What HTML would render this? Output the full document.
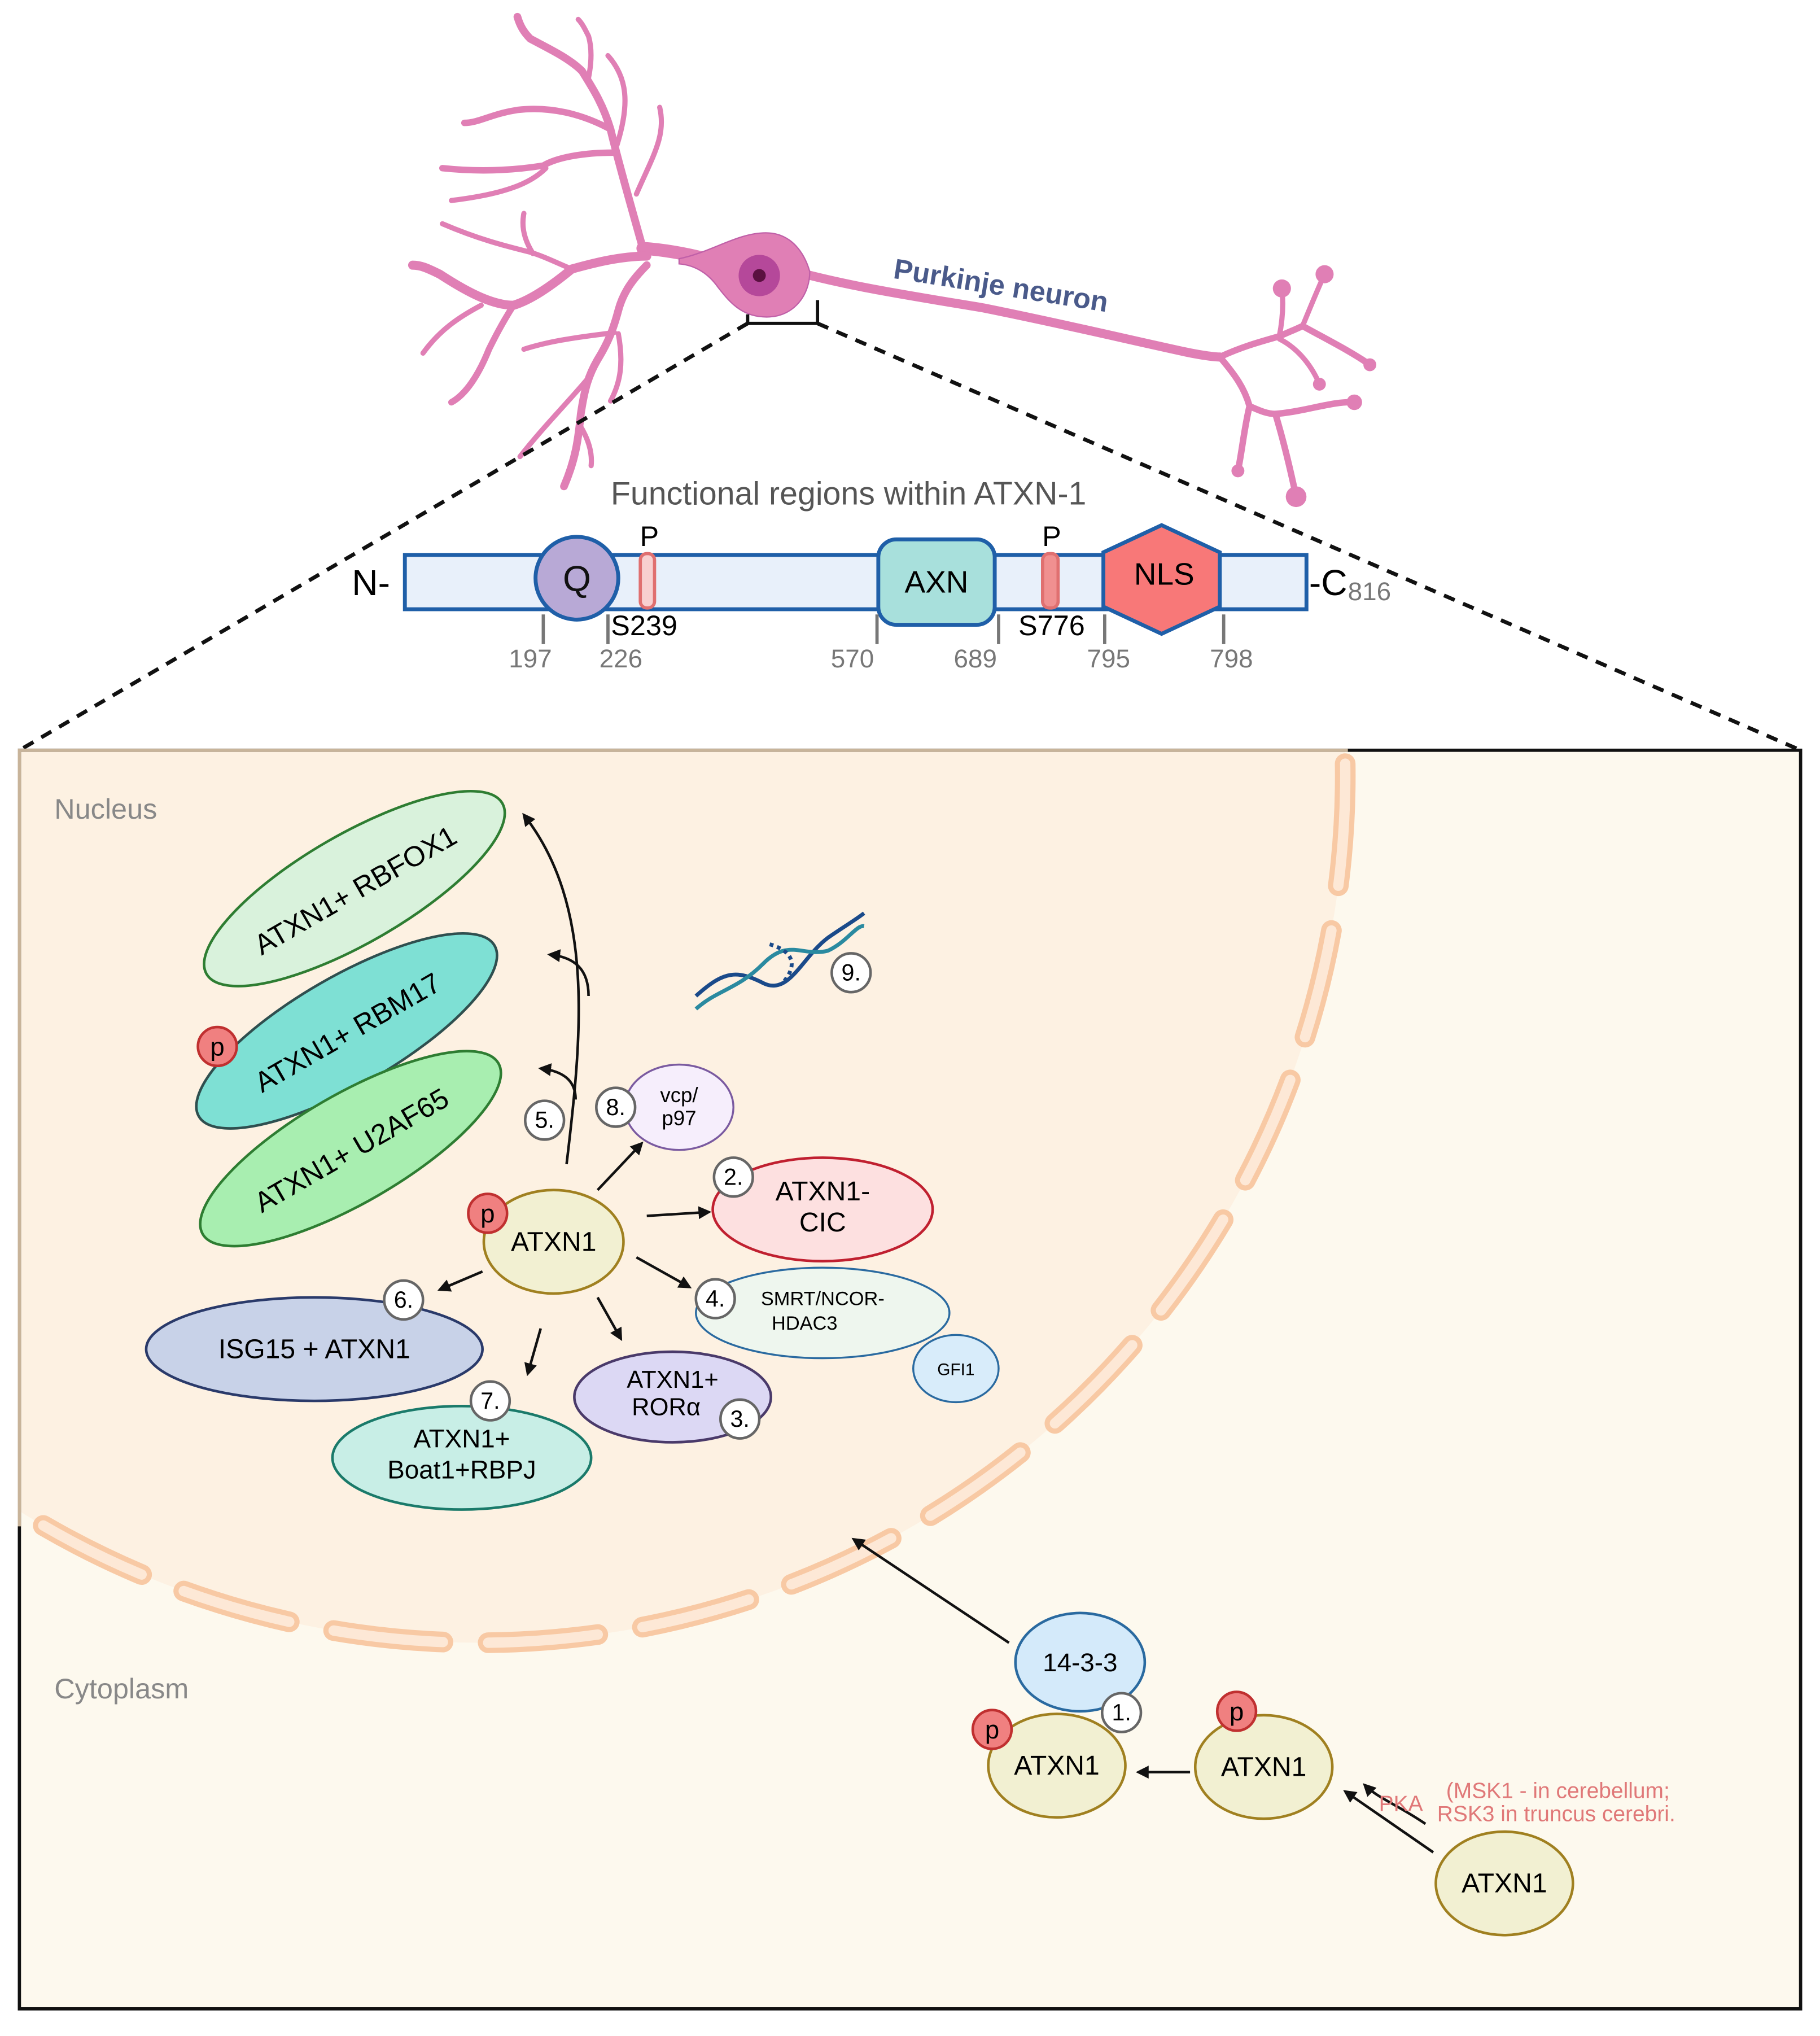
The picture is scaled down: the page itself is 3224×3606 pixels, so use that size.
<!DOCTYPE html>
<html><head><meta charset="utf-8"><style>
html,body{margin:0;padding:0;background:#fff}
svg{display:block}
text{font-family:"Liberation Sans",sans-serif}
</style></head><body>
<svg width="3224" height="3606" viewBox="0 0 1407 1574" preserveAspectRatio="none" xmlns="http://www.w3.org/2000/svg">
<defs>
<marker id="ah" viewBox="0 0 10 10" refX="8" refY="5" markerWidth="5" markerHeight="5" orient="auto"><path d="M0,0 L10,5 L0,10 z" fill="#111"/></marker>
<clipPath id="box"><rect x="15" y="580" width="1377" height="973"/></clipPath>
<g id="neu">
<path class="w8" d="M545,200 C530,196 512,193 497,192"/>
<path class="w6" d="M497,192 C488,160 478,125 472,100 C466,80 458,68 450,55 C440,45 425,38 410,30 C405,25 402,20 400,13"/>
<path class="w4" d="M455,60 C458,45 457,35 455,28 C452,22 450,18 447,15"/>
<path class="w5" d="M472,100 C450,88 425,82 400,85 C380,88 370,95 359,95"/>
<path class="w4" d="M477,112 C487,80 485,60 470,43"/>
<path class="w4" d="M492,150 C505,120 515,105 510,83"/>
<path class="w5" d="M474,118 C450,118 430,122 420,128 C395,132 370,133 342,130"/>
<path class="w4" d="M422,130 C410,142 390,150 349,155"/>
<path class="w7" d="M500,198 C480,198 460,203 442,208 C425,222 410,232 397,236 C380,236 360,225 340,212 C330,207 325,205 319,205"/>
<path class="w4" d="M442,208 C430,203 420,198 410,195 C390,190 370,185 342,173"/>
<path class="w4" d="M412,196 C405,185 403,175 405,165"/>
<path class="w5" d="M397,236 C388,250 382,262 378,270 C370,290 360,305 349,311"/>
<path class="w4" d="M372,236 C355,245 340,255 327,273"/>
<path class="w6" d="M500,205 C490,215 482,225 478,240 C474,255 470,265 462,278 C455,290 452,300 449,320 C447,340 445,355 436,376"/>
<path class="w4" d="M449,330 C455,340 458,350 457,360"/>
<path class="w4" d="M475,257 C455,260 430,262 405,270"/>
<path class="w4" d="M478,258 C482,280 480,295 472,310"/>
<path class="w4" d="M455,292 C440,310 420,330 402,353"/>
<path class="w7" d="M615,210 C660,222 700,228 760,238 C820,250 870,262 916,272 C930,275 940,276 943,276"/>
<path class="w5" d="M943,276 C960,268 975,264 989,260 C998,256 1003,254 1007,252 C1025,262 1045,272 1059,282"/>
<path class="w4" d="M989,260 C992,245 992,232 991,223"/>
<path class="w4" d="M1007,252 C1012,240 1018,225 1024,212"/>
<path class="w4" d="M989,262 C1005,270 1015,285 1020,297"/>
<path class="w5" d="M943,276 C955,290 962,300 966,314 C962,330 960,350 957,364"/>
<path class="w5" d="M966,314 C975,318 980,320 986,320 C1010,318 1030,310 1047,311"/>
<path class="w5" d="M986,320 C992,340 998,365 1002,384"/>
</g>
</defs>
<style>
.w8{stroke-width:10}.w7{stroke-width:7}.w6{stroke-width:6}.w5{stroke-width:5}.w4{stroke-width:4}
.ol path{stroke-width:0}
</style>
<rect width="1407" height="1574" fill="#fff"/>

<!-- Neuron -->
<g fill="none" stroke="#e07fb5" stroke-linecap="round" stroke-linejoin="round"><use href="#neu"/></g>
<g fill="#e07fb5"><circle cx="1024" cy="212" r="7"/><circle cx="991" cy="223" r="7"/><circle cx="1059" cy="282" r="5"/><circle cx="1047" cy="311" r="6"/><circle cx="1002" cy="384" r="8"/><circle cx="957" cy="364" r="5"/><circle cx="1020" cy="297" r="5"/></g>
<path d="M525,200 C550,195 570,180 592,180 C612,180 622,196 626,210 C626,228 614,244 595,245 C575,246 565,235 555,222 C548,212 538,205 525,204 Z" fill="#e07fb5" stroke="#c060a8" stroke-width="1"/>
<circle cx="587" cy="213" r="16" fill="#b5489a"/>
<circle cx="587" cy="213" r="5" fill="#5a1040"/>
<text x="690" y="215" font-size="22" font-weight="bold" fill="#4a5a8a" transform="rotate(9 690 215)">Purkinje neuron</text>

<!-- bracket & dashed -->
<path d="M578,243 V250 H632 V232" fill="none" stroke="#111" stroke-width="2.5"/>
<line x1="578" y1="250" x2="15" y2="580" stroke="#111" stroke-width="3" stroke-dasharray="9,7"/>
<line x1="632" y1="250" x2="1392" y2="580" stroke="#111" stroke-width="3" stroke-dasharray="9,7"/>

<!-- protein -->
<text x="656" y="390" font-size="25" fill="#555" text-anchor="middle">Functional regions within ATXN-1</text>
<rect x="313" y="429" width="697" height="42" fill="#e8f0fa" stroke="#1f5fa8" stroke-width="3"/>
<circle cx="446" cy="447" r="32" fill="#b8a9d6" stroke="#1f5fa8" stroke-width="3"/>
<text x="446" y="457" font-size="28" text-anchor="middle" fill="#111">Q</text>
<rect x="495" y="428" width="11" height="42" rx="5" fill="#f8d0d0" stroke="#e07070" stroke-width="2.5"/>
<text x="502" y="422" font-size="22" text-anchor="middle">P</text>
<text x="498" y="491" font-size="22" text-anchor="middle">S239</text>
<rect x="679" y="417" width="90" height="66" rx="14" fill="#a8e0dc" stroke="#1f5fa8" stroke-width="3"/>
<text x="724" y="458" font-size="24" text-anchor="middle">AXN</text>
<rect x="806" y="428" width="12" height="42" rx="5" fill="#f09090" stroke="#e07070" stroke-width="2.5"/>
<text x="813" y="422" font-size="22" text-anchor="middle">P</text>
<text x="813" y="491" font-size="22" text-anchor="middle">S776</text>
<polygon points="898,406 943,427 943,469 898,490 853,469 853,427" fill="#f87878" stroke="#1f5fa8" stroke-width="3"/>
<text x="900" y="452" font-size="24" text-anchor="middle">NLS</text>
<text x="272" y="460" font-size="28">N-</text>
<text x="1012" y="460" font-size="28">-C</text>
<text x="1042" y="464" font-size="20" fill="#777">816</text>
<g stroke="#777" stroke-width="2.5"><line x1="420" y1="475" x2="420" y2="498"/><line x1="470" y1="475" x2="470" y2="498"/><line x1="678" y1="475" x2="678" y2="498"/><line x1="772" y1="475" x2="772" y2="498"/><line x1="854" y1="475" x2="854" y2="498"/><line x1="946" y1="475" x2="946" y2="498"/></g>
<g font-size="20" fill="#777" text-anchor="middle"><text x="410" y="516">197</text><text x="480" y="516">226</text><text x="659" y="516">570</text><text x="754" y="516">689</text><text x="857" y="516">795</text><text x="952" y="516">798</text></g>

<!-- main box -->
<rect x="15" y="580" width="1377" height="973" fill="#fdf9ee"/>
<g clip-path="url(#box)">
<circle cx="370" cy="600" r="670" fill="#fdf1e2"/>
<circle cx="370" cy="600" r="670" fill="none" stroke="#f8c9a4" stroke-width="16" stroke-dasharray="85,35" stroke-linecap="round"/>
<circle cx="370" cy="600" r="670" fill="none" stroke="#fde8d6" stroke-width="8" stroke-dasharray="85,35" stroke-linecap="round"/>
</g>
<rect x="15" y="580" width="1377" height="973" fill="none" stroke="#111" stroke-width="2.5"/>
<path d="M15,1180 V580 H1042" fill="none" stroke="#c8b49a" stroke-width="2.5"/>

<text x="42" y="633" font-size="22" fill="#888">Nucleus</text>
<text x="42" y="1313" font-size="22" fill="#888">Cytoplasm</text>

<!-- arrows -->
<g fill="none" stroke="#111" stroke-width="2" marker-end="url(#ah)">
<path d="M438,900 C450,800 460,700 405,630"/>
<path d="M455,770 C455,750 445,740 425,738"/>
<path d="M445,850 C445,835 435,828 418,826"/>
<path d="M462,920 L496,884"/>
<path d="M500,940 L548,937"/>
<path d="M492,972 L533,995"/>
<path d="M462,1003 L480,1035"/>
<path d="M418,1027 L408,1062"/>
<path d="M373,983 L340,997"/>
<path d="M780,1270 L660,1190"/>
<path d="M920,1370 L880,1370"/>
<path d="M1108,1432 L1040,1385"/>
<path d="M1102,1410 C1080,1395 1065,1390 1055,1380"/>
</g>

<!-- splicing complexes -->
<g transform="rotate(-30 274 687)"><ellipse cx="274" cy="687" rx="132" ry="42" fill="#d9f2dc" stroke="#2e7d32" stroke-width="2"/><text x="274" y="696" font-size="22" text-anchor="middle">ATXN1+ RBFOX1</text></g>
<g transform="rotate(-30 268 797)"><ellipse cx="268" cy="797" rx="132" ry="42" fill="#7ee0d4" stroke="#2f4f4f" stroke-width="2"/><text x="268" y="806" font-size="22" text-anchor="middle">ATXN1+ RBM17</text></g>
<g transform="rotate(-30 271 888)"><ellipse cx="271" cy="888" rx="132" ry="42" fill="#a8eeb0" stroke="#2e7d32" stroke-width="2"/><text x="271" y="897" font-size="22" text-anchor="middle">ATXN1+ U2AF65</text></g>

<!-- DNA -->
<g fill="none" stroke-width="3">
<path d="M538,770 C560,750 570,750 590,760 C610,770 620,740 640,725 C650,718 660,712 668,706" stroke="#1a4a8a"/>
<path d="M538,780 C555,765 570,765 590,745 C610,725 620,740 640,735 C655,728 662,715 668,716" stroke="#2a8aa0"/>
<path d="M595,730 C612,735 618,745 605,760" stroke="#1a4a8a" stroke-dasharray="3,3"/>
</g>

<!-- other ellipses -->
<ellipse cx="243" cy="1043" rx="130" ry="40" fill="#c8d2e8" stroke="#2a3a6a" stroke-width="2"/>
<text x="243" y="1050" font-size="21" text-anchor="middle">ISG15 + ATXN1</text>
<ellipse cx="357" cy="1127" rx="100" ry="40" fill="#c8eee6" stroke="#1a7a6a" stroke-width="2"/>
<text x="357" y="1119" font-size="20" text-anchor="middle">ATXN1+</text><text x="357" y="1143" font-size="20" text-anchor="middle">Boat1+RBPJ</text>
<ellipse cx="520" cy="1080" rx="76" ry="35" fill="#dcd8f4" stroke="#4a3a6a" stroke-width="2"/>
<text x="520" y="1073" font-size="19" text-anchor="middle">ATXN1+</text><text x="515" y="1094" font-size="19" text-anchor="middle">RORα</text>
<ellipse cx="636" cy="1015" rx="98" ry="35" fill="#eef6ee" stroke="#2a6aa0" stroke-width="1.5"/>
<text x="636" y="1009" font-size="15" text-anchor="middle">SMRT/NCOR-</text><text x="622" y="1028" font-size="15" text-anchor="middle">HDAC3</text>
<ellipse cx="739" cy="1058" rx="33" ry="26" fill="#d8ecfa" stroke="#2a6aa0" stroke-width="1.5"/>
<text x="739" y="1063" font-size="13" text-anchor="middle">GFI1</text>
<ellipse cx="636" cy="935" rx="85" ry="40" fill="#fde0e0" stroke="#c02030" stroke-width="2"/>
<text x="636" y="928" font-size="21" text-anchor="middle">ATXN1-</text><text x="636" y="952" font-size="21" text-anchor="middle">CIC</text>
<ellipse cx="525" cy="856" rx="42" ry="33" fill="#f6eefc" stroke="#7a5aa0" stroke-width="1.5"/>
<text x="525" y="852" font-size="16" text-anchor="middle">vcp/</text><text x="525" y="870" font-size="16" text-anchor="middle">p97</text>
<ellipse cx="428" cy="960" rx="54" ry="40" fill="#f2f0d2" stroke="#a08020" stroke-width="2"/>
<text x="428" y="967" font-size="21" text-anchor="middle">ATXN1</text>

<!-- cytoplasm -->
<ellipse cx="835" cy="1285" rx="50" ry="38" fill="#d4eafa" stroke="#2a6aa0" stroke-width="2"/>
<text x="835" y="1292" font-size="20" text-anchor="middle">14-3-3</text>
<ellipse cx="817" cy="1365" rx="53" ry="40" fill="#f2f0d2" stroke="#a08020" stroke-width="2"/>
<text x="817" y="1372" font-size="21" text-anchor="middle">ATXN1</text>
<ellipse cx="977" cy="1366" rx="53" ry="40" fill="#f2f0d2" stroke="#a08020" stroke-width="2"/>
<text x="977" y="1373" font-size="21" text-anchor="middle">ATXN1</text>
<ellipse cx="1163" cy="1456" rx="53" ry="40" fill="#f2f0d2" stroke="#a08020" stroke-width="2"/>
<text x="1163" y="1463" font-size="21" text-anchor="middle">ATXN1</text>
<text x="1066" y="1400" font-size="17" fill="#e07878">PKA</text>
<text x="1118" y="1390" font-size="17" fill="#e07878">(MSK1 - in cerebellum;</text>
<text x="1111" y="1408" font-size="17" fill="#e07878">RSK3 in truncus cerebri.</text>

<!-- p circles -->
<g fill="#f08080" stroke="#c03030" stroke-width="2"><circle cx="168" cy="809" r="15"/><circle cx="377" cy="938" r="15"/><circle cx="767" cy="1337" r="15"/><circle cx="956" cy="1323" r="15"/></g>
<g font-size="20" text-anchor="middle"><text x="168" y="816">p</text><text x="377" y="945">p</text><text x="767" y="1344">p</text><text x="956" y="1330">p</text></g>

<!-- numbers -->
<g fill="#fff" stroke="#666" stroke-width="2"><circle cx="867" cy="1324" r="15"/><circle cx="567" cy="910" r="15"/><circle cx="572" cy="1097" r="15"/><circle cx="553" cy="1004" r="15"/><circle cx="421" cy="866" r="15"/><circle cx="312" cy="1005" r="15"/><circle cx="379" cy="1083" r="15"/><circle cx="476" cy="856" r="15"/><circle cx="658" cy="752" r="15"/></g>
<g font-size="18" text-anchor="middle"><text x="867" y="1330">1.</text><text x="567" y="916">2.</text><text x="572" y="1103">3.</text><text x="553" y="1010">4.</text><text x="421" y="872">5.</text><text x="312" y="1011">6.</text><text x="379" y="1089">7.</text><text x="476" y="862">8.</text><text x="658" y="758">9.</text></g>
</svg>
</body></html>
